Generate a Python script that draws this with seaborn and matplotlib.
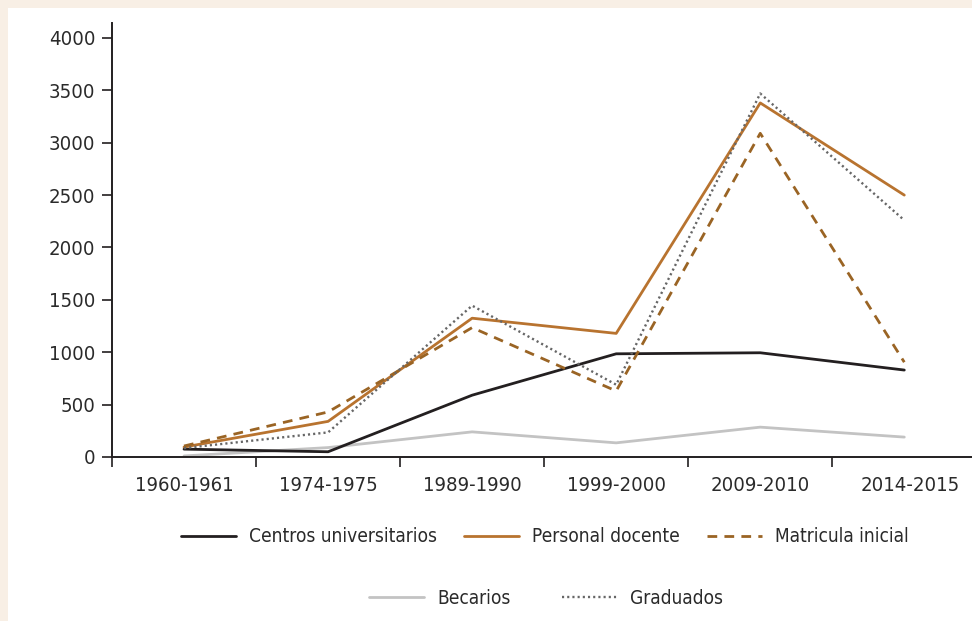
import matplotlib
matplotlib.use("Agg")
import matplotlib.pyplot as plt
import seaborn as sns
import numpy as np
from matplotlib.lines import Line2D
from matplotlib.patches import Rectangle
from matplotlib.transforms import ScaledTranslation

periods = ["1960-1961", "1974-1975", "1989-1990", "1999-2000", "2009-2010", "2014-2015"]
centros = [75, 50, 590, 985, 995, 830]
personal = [95, 340, 1325, 1180, 3380, 2500]
matricula = [105, 430, 1235, 630, 3090, 905]
becarios = [10, 90, 240, 135, 285, 190]
graduados = [85, 235, 1445, 690, 3470, 2260]
yticks = [0, 500, 1000, 1500, 2000, 2500, 3000, 3500, 4000]

sns.set_theme(style="white")
plt.rcParams['font.family'] = ['DejaVu Sans']
plt.rcParams['font.stretch'] = 'condensed'

TXT = "#2a2a2a"
fig = plt.figure(figsize=(9.72, 6.21), dpi=100)
fig.patch.set_facecolor("#f8efe5")
fig.patches.append(Rectangle((8/972, 0), 1, 1 - 8/621, transform=fig.transFigure,
                             facecolor="white", edgecolor="none", zorder=-5))
ax = fig.add_axes([112/972, 1 - 457/621, 1 - 112/972, (457 - 23)/621])
ax.set_facecolor("none")
ax.set_zorder(2)

x = np.arange(len(periods))
series = [
    ("Becarios", becarios, "#c3c3c3", "-", 2.0),
    ("Centros universitarios", centros, "#231f20", "-", 2.0),
    ("Personal docente", personal, "#b8732f", "-", 2.0),
    ("Matricula inicial", matricula, "#9a6424", (0, (3.5, 2.6)), 2.0),
    ("Graduados", graduados, "#666666", (0, (0.9, 1.3)), 1.7),
]
for name, vals, col, ls, lw in series:
    sns.lineplot(x=x, y=vals, ax=ax, color=col, linewidth=lw, linestyle=ls, legend=False)

ax.set_xlim(-0.5, 5.47)
ax.set_ylim(0, 4143)
ax.set_yticks(yticks)
ax.set_yticklabels([str(v) for v in yticks])
ax.set_xticks(x)
ax.set_xticklabels(periods)
ax.set_xticks(np.arange(-0.5, 5.5, 1.0), minor=True)
ax.tick_params(axis="x", which="major", length=0, pad=14, labelsize=14.6, colors=TXT)
ax.tick_params(axis="x", which="minor", length=7, width=1.2, direction="out", color="#231f20", bottom=True)
ax.tick_params(axis="y", length=7, width=1.2, direction="out", left=True, labelsize=14.6,
               colors=TXT, pad=5)
ax.tick_params(axis="y", color="#231f20")
lbls = ax.get_xticklabels()
lbls[-1].set_transform(lbls[-1].get_transform() + ScaledTranslation(6/100, 0, fig.dpi_scale_trans))
for s in ["top", "right"]:
    ax.spines[s].set_visible(False)
for s in ["left", "bottom"]:
    ax.spines[s].set_color("#231f20")
    ax.spines[s].set_linewidth(1.4)
ax.set_xlabel("")
ax.set_ylabel("")

def h(name):
    for n, vals, col, ls, lw in series:
        if n == name:
            return Line2D([], [], color=col, linestyle=ls, linewidth=lw)

names1 = ["Centros universitarios", "Personal docente", "Matricula inicial"]
names2 = ["Becarios", "Graduados"]
leg1 = fig.legend([h(n) for n in names1], names1, loc="center", bbox_to_anchor=(545/972, 1 - 537/621),
                  ncol=3, frameon=False, fontsize=13.7, handlelength=2.9, handletextpad=0.7,
                  columnspacing=1.4, labelcolor=TXT)
leg2 = fig.legend([h(n) for n in names2], names2, loc="center", bbox_to_anchor=(546/972, 1 - 598/621),
                  ncol=2, frameon=False, fontsize=13.7, handlelength=2.9, handletextpad=0.7,
                  columnspacing=2.7, labelcolor=TXT)

fig.savefig("out.png", dpi=100, facecolor=fig.get_facecolor())
